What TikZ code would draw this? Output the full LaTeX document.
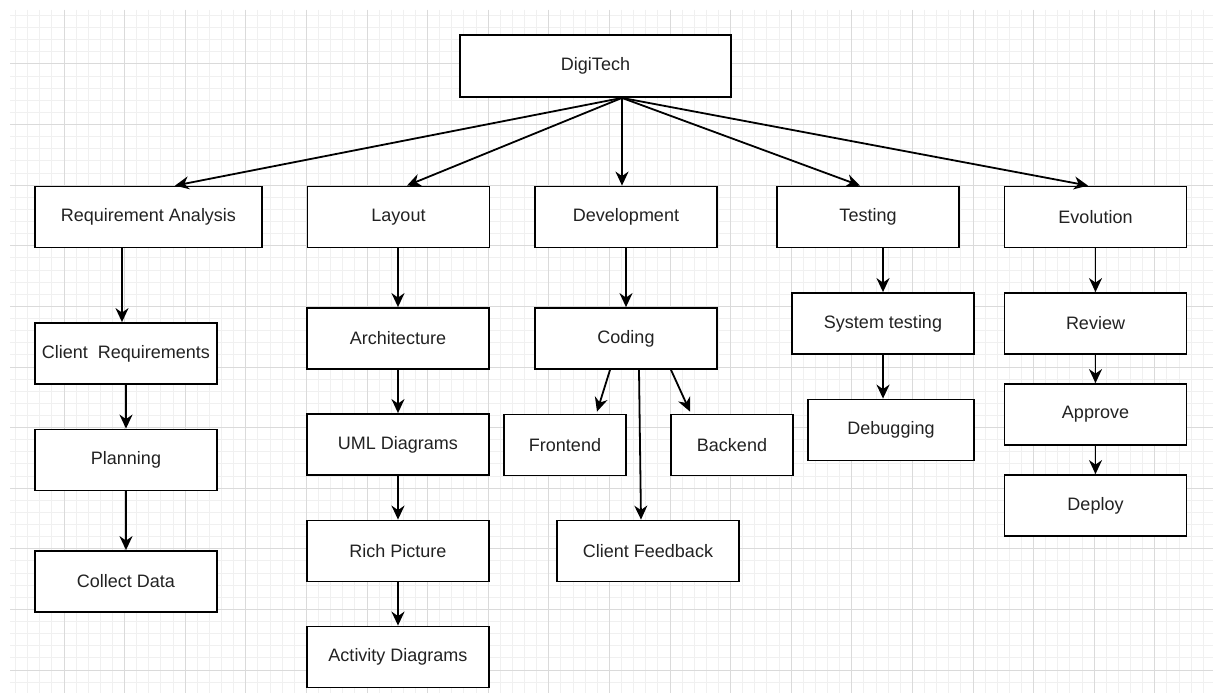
\documentclass[tikz,border=0pt]{standalone}
\usepackage{fontspec}
\setmainfont{Liberation Sans}
\usetikzlibrary{arrows.meta}
\definecolor{gMinor}{HTML}{F0F0F0}
\definecolor{gMajor}{HTML}{DADADA}
\definecolor{cText}{HTML}{222222}

\begin{document}
\begin{tikzpicture}[x=1pt, y=-1pt,
		box/.style={draw, line width=1.8pt, fill=white, minimum width=182pt, minimum height=61pt, inner sep=0pt, text=cText, font=\fontsize{18}{20}\selectfont},
		arr/.style={line width=1.8pt, -{Stealth[length=14pt, width=13pt, inset=4.5pt]}}]
		\useasboundingbox (0,0) rectangle (1213,693);
		\fill[white] (0,0) rectangle (1213,693);
		\begin{scope}
		\clip (10,10) rectangle (1213,693);
		\foreach \i in {0,...,99} \draw[gMinor, line width=1pt] ({3.4+12.12*\i},10) -- ({3.4+12.12*\i},693);
		\foreach \i in {0,...,57} \draw[gMinor, line width=1pt] (10,{3.4+12.12*\i}) -- (1213,{3.4+12.12*\i});
		\foreach \i in {1,...,19} \draw[gMajor, line width=1pt] ({3.4+60.6*\i},10) -- ({3.4+60.6*\i},693);
		\foreach \i in {1,...,11} \draw[gMajor, line width=1pt] (10,{3.4+60.6*\i}) -- (1213,{3.4+60.6*\i});
		\end{scope}
		% top
		\node[box, minimum width=271pt, minimum height=62pt] (digi) at (595.5,66) {DigiTech};
		\node[box, minimum width=227pt] (req) at (148.5,217) {Requirement Analysis};
		\node[box] (layout) at (398.5,217) {Layout};
		\node[box] (dev) at (626,217) {Development};
		\node[box] (test) at (868,217) {Testing};
		\node[box] (evo) at (1095.5,217) {Evolution};
		% columns
		\node[box] (clireq) at (126,353.5) {Client\ \ Requirements};
		\node[box] (plan) at (126,460) {Planning};
		\node[box] (collect) at (126,581.5) {Collect Data};
		\node[box] (arch) at (398,338.5) {Architecture};
		\node[box] (uml) at (398,444.5) {UML Diagrams};
		\node[box] (rich) at (398,551) {Rich Picture};
		\node[box] (act) at (398,657) {Activity Diagrams};
		\node[box] (coding) at (626,338.5) {Coding};
		\node[box, minimum width=122pt] (front) at (565,445) {Frontend};
		\node[box, minimum width=122pt] (back) at (732,445) {Backend};
		\node[box] (feedback) at (648,551) {Client Feedback};
		\node[box] (systest) at (883,323.5) {System testing};
		\node[box, minimum width=166pt] (debug) at (891,430) {Debugging};
		\node[box] (review) at (1095.5,323.5) {Review};
		\node[box] (approve) at (1095.5,414.5) {Approve};
		\node[box] (deploy) at (1095.5,505.5) {Deploy};
		\coordinate (hub) at ([xshift=26.5pt]digi.south);
		\draw[arr] (hub) -- ([xshift=26.5pt]req.north);
		\draw[arr] (hub) -- ([xshift=8.5pt]layout.north);
		\draw[arr] (hub) -- (hub |- dev.north);
		\draw[arr] (hub) -- ([xshift=-8pt]test.north);
		\draw[arr] (hub) -- ([xshift=-7.5pt]evo.north);
		\draw[arr] ([xshift=-4pt]clireq.north |- req.south) -- ([xshift=-4pt]clireq.north);
		\draw[arr] (clireq) -- (plan);
		\draw[arr] (plan) -- (collect);
		\draw[arr] (layout.south -| arch.north) -- (arch);
		\draw[arr] (arch) -- (uml);
		\draw[arr] (uml) -- (rich);
		\draw[arr] (rich) -- (act);
		\draw[arr] (dev) -- (coding);
		\draw[arr] ([xshift=-16pt]coding.south) -- ([xshift=32pt,yshift=2pt]front.north);
		\draw[arr] ([xshift=13pt]coding.south) -- ([xshift=-7pt]feedback.north);
		\draw[arr] ([xshift=45pt]coding.south) -- ([xshift=-42pt,yshift=2pt]back.north);
		\draw[arr] (systest.north |- test.south) -- (systest.north);
		\draw[arr] (systest.south) -- (systest.south |- debug.north);
		\draw[arr] (evo) -- (review);
		\draw[arr] (review) -- (approve);
		\draw[arr] (approve) -- (deploy);
\end{tikzpicture}
\end{document}
